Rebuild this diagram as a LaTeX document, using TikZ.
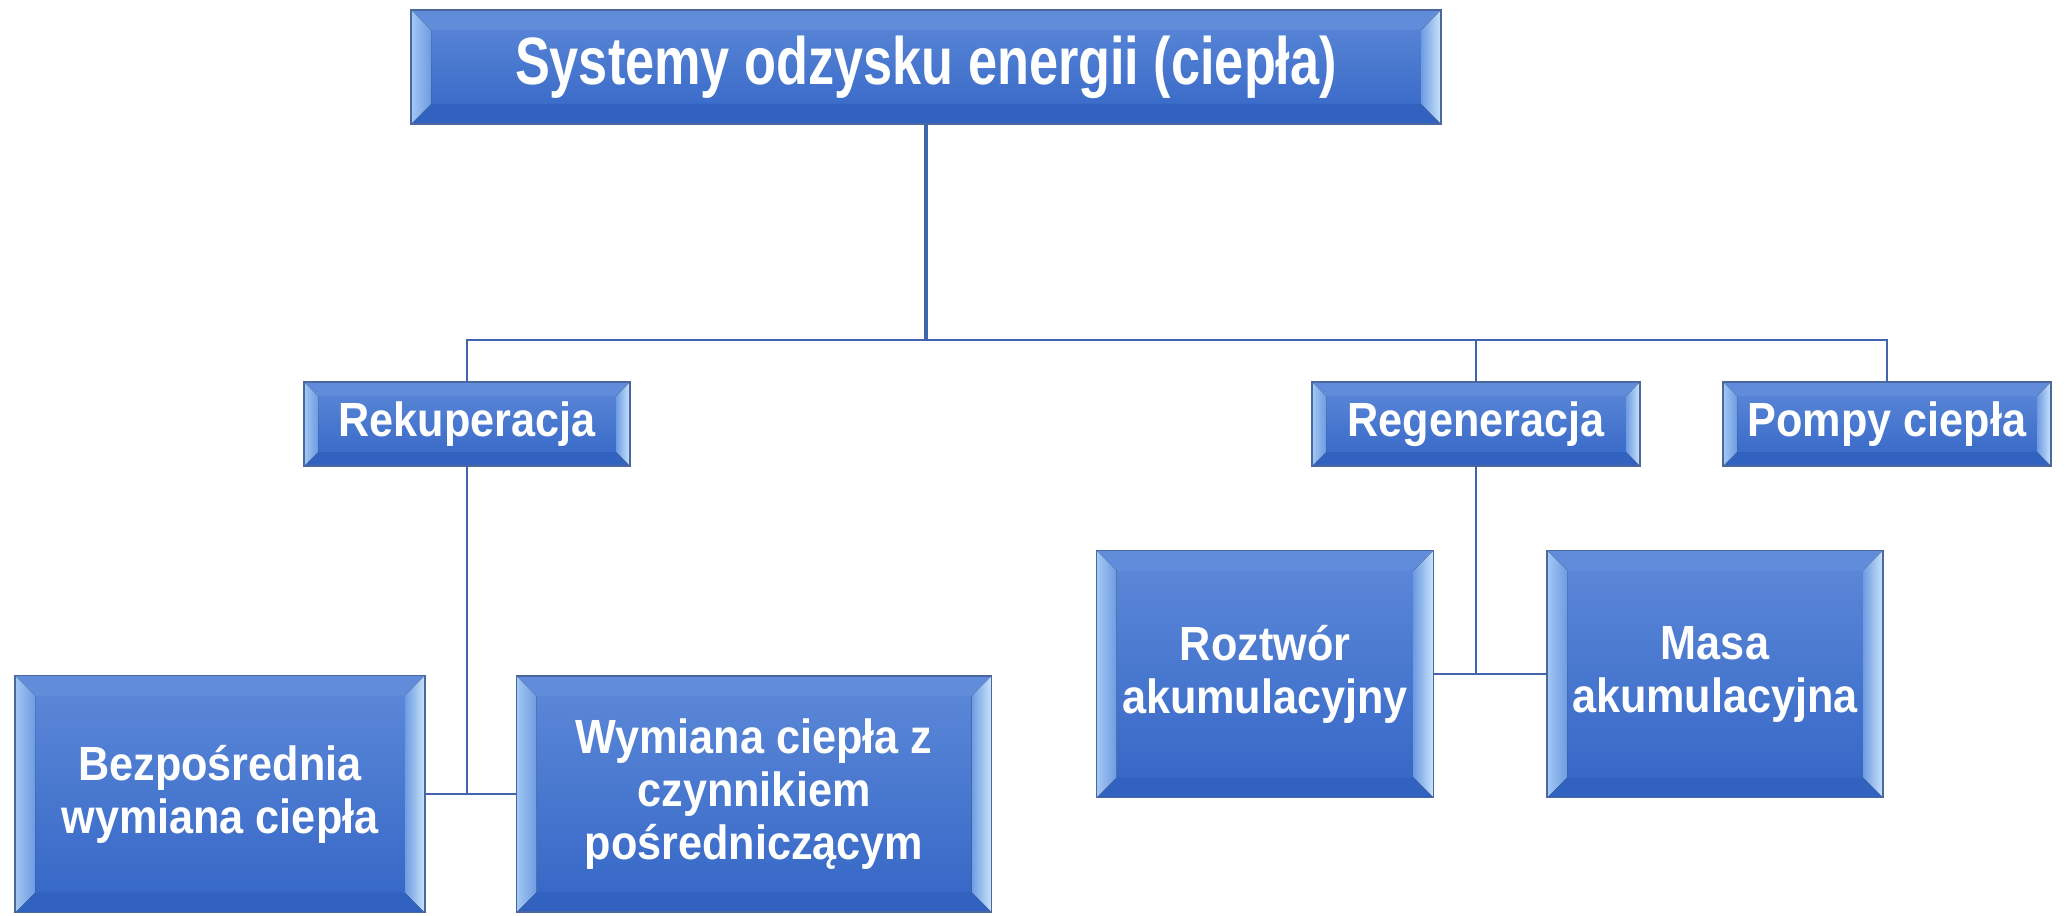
\documentclass[tikz,border=0pt]{standalone}
\usepackage{fontspec}
\setmainfont{Liberation Sans}
\newfontfamily\titlefont[FakeStretch=0.78]{Liberation Sans}
\newfontfamily\boxfont[FakeStretch=0.9]{Liberation Sans}
\usepackage{tikz}
\definecolor{boxtop}{HTML}{5D89D8}
\definecolor{boxbottom}{HTML}{3466C6}
\definecolor{boxedge}{HTML}{4B679E}
\definecolor{bevellight}{HTML}{A3C8F3}
\definecolor{bevelmid}{HTML}{6E9BE2}
\definecolor{bevelbright}{HTML}{C9E4FB}
\definecolor{beveltop}{HTML}{618CD9}
\definecolor{bevelbottom}{HTML}{3262C0}
\definecolor{linkblue}{HTML}{4264AE}
\tikzset{
    every picture/.style={line cap=butt,line join=miter},
    bevel/.store in=\bev, bevel=7pt,
    boxsize/.style 2 args={minimum width=#1*0.5pt,minimum height=#2*0.5pt},
    bevelbox/.style={draw=boxedge,line width=0.6pt,top color=boxtop,bottom color=boxbottom,
      text=white,inner sep=0pt,outer sep=0pt,align=center,
      font=\boxfont\bfseries\fontsize{24}{26.5}\selectfont,
      path picture={
        \coordinate (bsw) at (path picture bounding box.south west);
        \coordinate (bne) at (path picture bounding box.north east);
        \coordinate (bnw) at (bsw |- bne);
        \coordinate (bse) at (bne |- bsw);
        \fill[beveltop] (bnw) -- (bne) -- ([shift={(-\bev,-\bev)}]bne) -- ([shift={(\bev,-\bev)}]bnw) -- cycle;
        \fill[bevelbottom] (bsw) -- (bse) -- ([shift={(-\bev,\bev)}]bse) -- ([shift={(\bev,\bev)}]bsw) -- cycle;
        \fill[left color=bevellight,right color=bevelmid] (bsw) -- (bnw) -- ([shift={(\bev,-\bev)}]bnw) -- ([shift={(\bev,\bev)}]bsw) -- cycle;
        \fill[left color=bevelmid,right color=bevelbright] (bse) -- (bne) -- ([shift={(-\bev,-\bev)}]bne) -- ([shift={(-\bev,\bev)}]bse) -- cycle;
      }},
    titlebox/.style={bevelbox,bevel=10pt,font=\titlefont\bfseries\fontsize{33.5}{36}\selectfont},
    trunkline/.style={draw=linkblue,line width=2pt},
    treeline/.style={draw=linkblue,line width=1.4pt}
}
\begin{document}
\begin{tikzpicture}[x=0.5pt,y=-0.5pt]
  \useasboundingbox (0,0) rectangle (2065,915);
  \node[titlebox,boxsize={1030}{114}] (sys) at (926,67) {Systemy odzysku energii (ciepła)};
  \node[bevelbox,boxsize={326}{84}] (rek) at (467,424) {Rekuperacja};
  \node[bevelbox,boxsize={328}{84}] (reg) at (1476,424) {Regeneracja};
  \node[bevelbox,boxsize={328}{84}] (pom) at (1887,424) {Pompy ciepła};
  \node[bevelbox,bevel=10pt,boxsize={410}{237}] (bez) at (220,794) {Bezpośrednia\\wymiana ciepła};
  \node[bevelbox,bevel=10pt,boxsize={475}{236}] (wym) at (754,794) {Wymiana ciepła z\\czynnikiem\\pośredniczącym};
  \node[bevelbox,bevel=10pt,boxsize={337}{247}] (roz) at (1265,674) {Roztwór\\akumulacyjny};
  \node[bevelbox,bevel=10pt,boxsize={336}{247}] (mas) at (1715,674) {Masa\\akumulacyjna};
  \coordinate (hub) at (926,340);
  \draw[trunkline] (sys) -- (hub);
  \draw[treeline] (hub) -| (rek);
  \draw[treeline] (hub) -| (reg);
  \draw[treeline] (hub) -| (pom);
  \draw[treeline] (rek) |- (bez);
  \draw[treeline] (rek) |- (wym);
  \draw[treeline] (reg) |- (roz);
  \draw[treeline] (reg) |- (mas);
\end{tikzpicture}
\end{document}
